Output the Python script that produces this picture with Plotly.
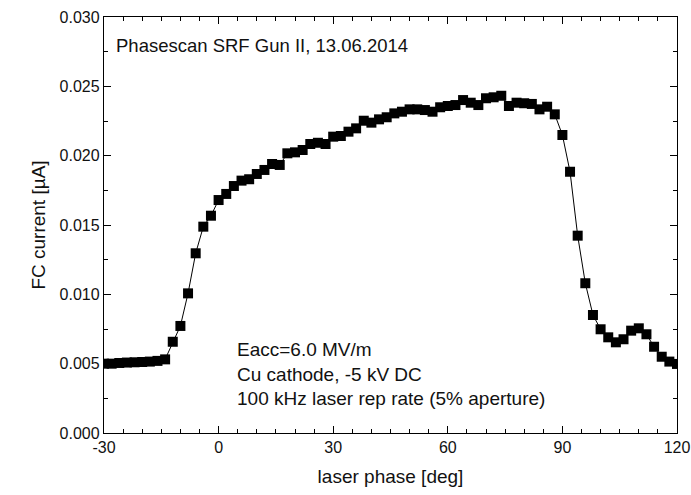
import plotly.graph_objects as go

phase = list(range(-30, 121, 2))
current = [
    0.00500, 0.00500, 0.00505, 0.00508, 0.00510, 0.00512, 0.00515, 0.00520, 0.00531,  # -30..-14
    0.00658, 0.00772, 0.01007, 0.01296, 0.01488, 0.01567,                              # -12..-2
    0.01680, 0.01724, 0.01781, 0.01820, 0.01830, 0.01868, 0.01897, 0.01940,            # 0..14
    0.01933, 0.02017, 0.02024, 0.02041, 0.02084, 0.02093, 0.02084, 0.02137,            # 16..30
    0.02142, 0.02173, 0.02197, 0.02252, 0.02238, 0.02262, 0.02277, 0.02305,            # 32..46
    0.02317, 0.02334, 0.02334, 0.02329, 0.02317, 0.02349, 0.02358, 0.02365,            # 48..62
    0.02401, 0.02382, 0.02365, 0.02414, 0.02421, 0.02432, 0.02358, 0.02382,            # 64..78
    0.02378, 0.02373, 0.02334, 0.02353, 0.02298, 0.02149, 0.01884, 0.01423,            # 80..94
    0.01080, 0.00851, 0.00748, 0.00690, 0.00654, 0.00676, 0.00738, 0.00755,            # 96..110
    0.00712, 0.00622, 0.00550, 0.00515, 0.00498                                        # 112..120
]

x_ticks = [-30, 0, 30, 60, 90, 120]
y_ticks = [0.000, 0.005, 0.010, 0.015, 0.020, 0.025, 0.030]

title_text = "Phasescan SRF Gun II, 13.06.2014"
info_lines = ["Eacc=6.0 MV/m", "Cu cathode, -5 kV DC", "100 kHz laser rep rate (5% aperture)"]

FONT = "Arial, Liberation Sans, sans-serif"
TXT = "#111"

fig = go.Figure()
fig.add_trace(go.Scatter(
    x=phase, y=current, mode="lines+markers",
    line=dict(color="black", width=1),
    marker=dict(symbol="square", size=10, color="black"),
    showlegend=False,
))

axis_common = dict(
    showline=True, linecolor="black", linewidth=1.3, mirror="allticks",
    ticks="inside", ticklen=7, tickwidth=1, tickcolor="black",
    showgrid=False, zeroline=False, automargin=False,
    tickfont=dict(family=FONT, size=16, color=TXT),
)

fig.update_xaxes(
    range=[-30, 120], tickvals=x_ticks, ticktext=[str(v) for v in x_ticks],
    minor=dict(ticks="inside", ticklen=4, dtick=5, tick0=-30, tickcolor="black", showgrid=False),
    title=dict(text="laser phase [deg]", font=dict(family=FONT, size=19, color=TXT), standoff=14),
    **axis_common,
)
fig.update_yaxes(
    range=[0, 0.030], tickvals=y_ticks, ticktext=[f"{v:.3f}" for v in y_ticks],
    minor=dict(ticks="inside", ticklen=4, dtick=0.0025, tick0=0, tickcolor="black", showgrid=False),
    title=dict(text="FC current [µA]", font=dict(family=FONT, size=19, color=TXT), standoff=8),
    **axis_common,
)

fig.add_annotation(
    x=0.018, y=0.962, xref="paper", yref="paper", xanchor="left", yanchor="top",
    text=title_text, showarrow=False, font=dict(family=FONT, size=18.5, color=TXT),
)
fig.add_annotation(
    x=0.228, y=0.231, xref="paper", yref="paper", xanchor="left", yanchor="top",
    text="<br>".join(info_lines), showarrow=False, align="left",
    font=dict(family=FONT, size=19, color=TXT),
)

fig.update_layout(
    width=691, height=495,
    margin=dict(l=104, r=14, t=17, b=62),
    paper_bgcolor="white", plot_bgcolor="white",
    font=dict(family=FONT),
)

fig.write_html("out.html")
